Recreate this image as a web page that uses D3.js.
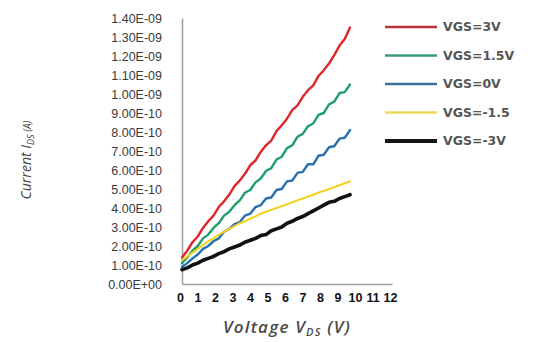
<!DOCTYPE html>
<html>
<head>
<meta charset="utf-8">
<script src="https://cdn.jsdelivr.net/npm/d3@7/dist/d3.min.js"></script>
<style>
  body { margin: 0; background: #fff; }
</style>
</head>
<body>
<div id="chart"></div>
<script>
// Drain voltage samples (V)
const vds = [0, 0.3, 0.6, 0.9, 1.2, 1.5, 1.8, 2.1, 2.4, 2.7, 3.0, 3.3, 3.6, 3.9, 4.2, 4.5, 4.8,
  5.1, 5.4, 5.7, 6.0, 6.3, 6.6, 6.9, 7.2, 7.5, 7.8, 8.1, 8.4, 8.7, 9.0, 9.3, 9.6];

// Drain current, in units of 1e-10 A
const idsVgs3 = [1.4, 1.75, 2.2, 2.5, 2.95, 3.3, 3.6, 4.05, 4.35, 4.7, 5.15, 5.45, 5.8, 6.25, 6.5, 6.95,
  7.3, 7.55, 8.05, 8.35, 8.7, 9.15, 9.4, 9.85, 10.2, 10.45, 10.95, 11.25, 11.6, 12.05, 12.55, 12.9, 13.5];
const idsVgs15 = [1.1, 1.4, 1.75, 2.0, 2.4, 2.6, 2.95, 3.2, 3.6, 3.8, 4.15, 4.4, 4.8, 4.95, 5.35, 5.55,
  5.95, 6.1, 6.55, 6.7, 7.15, 7.3, 7.75, 7.9, 8.3, 8.45, 8.9, 9.0, 9.45, 9.6, 10.05, 10.1, 10.5];
const idsVgs0 = [0.9, 1.1, 1.35, 1.55, 1.85, 2.0, 2.25, 2.4, 2.75, 2.9, 3.15, 3.25, 3.6, 3.7, 4.05, 4.15,
  4.5, 4.55, 4.95, 5.0, 5.4, 5.45, 5.85, 5.9, 6.3, 6.3, 6.75, 6.8, 7.2, 7.25, 7.65, 7.7, 8.1];
const idsVgsM15 = [1.25, 1.45, 1.65, 1.85, 2.05, 2.25, 2.4, 2.6, 2.75, 2.9, 3.05, 3.2, 3.3, 3.45, 3.55, 3.7,
  3.8, 3.9, 4.0, 4.1, 4.2, 4.3, 4.4, 4.5, 4.6, 4.7, 4.8, 4.9, 5.0, 5.1, 5.2, 5.3, 5.4];
const idsVgsM3 = [0.75, 0.85, 1.0, 1.1, 1.25, 1.35, 1.45, 1.6, 1.7, 1.85, 1.95, 2.05, 2.2, 2.3, 2.4, 2.55,
  2.6, 2.8, 2.9, 3.0, 3.2, 3.3, 3.45, 3.55, 3.7, 3.85, 4.0, 4.15, 4.3, 4.35, 4.5, 4.6, 4.7];

const seriesNames = ['VGS=3V', 'VGS=1.5V', 'VGS=0V', 'VGS=-1.5', 'VGS=-3V'];
const seriesValues = [idsVgs3, idsVgs15, idsVgs0, idsVgsM15, idsVgsM3];

const xTickValues = [0, 1, 2, 3, 4, 5, 6, 7, 8, 9, 10, 11, 12];
const yTickValues = [0, 1, 2, 3, 4, 5, 6, 7, 8, 9, 10, 11, 12, 13, 14];

const width = 534;
const height = 343;
const margin = {top: 18, left: 182, right: 142, bottom: 59};

const lineColors = ['#e0262b', '#1f9e6c', '#2671b2', '#f4d11f', '#111111'];
const legendColors = ['#b8333a', '#3c9a7a', '#3a6f9a', '#ecd95a', '#151515'];
const lineWidths = [2.4, 2.4, 2.4, 2, 3.6];

const svg = d3.select('#chart')
  .append('svg')
  .attr('width', width)
  .attr('height', height)
  .attr('viewBox', `0 0 ${width} ${height}`);

const xScale = d3.scaleLinear()
  .domain([0, 12])
  .range([margin.left, width - margin.right]);

const yScale = d3.scaleLinear()
  .domain([0, 14])
  .range([height - margin.bottom, margin.top]);

// Axis label format like 1.40E-09
const formatCurrent = v => {
  if (v === 0) return '0.00E+00';
  const [mant, exp] = (v * 1e-10).toExponential(2).split('e');
  const e = parseInt(exp);
  return mant + 'E' + (e < 0 ? '-' : '+') + String(Math.abs(e)).padStart(2, '0');
};

// y-axis
const yAxis = svg.append('g')
  .attr('transform', `translate(${margin.left}, 0)`)
  .call(d3.axisLeft(yScale).tickValues(yTickValues).tickSize(0).tickPadding(20).tickFormat(formatCurrent));
yAxis.select('.domain').attr('stroke', '#a0a0a0').attr('stroke-width', 1.5);
yAxis.selectAll('text')
  .style('font-family', 'Liberation Sans, Arial, sans-serif')
  .style('font-size', '12.5px')
  .style('fill', '#3a3a3a');

// x-axis
const xAxis = svg.append('g')
  .attr('transform', `translate(0, ${height - margin.bottom})`)
  .call(d3.axisBottom(xScale).tickValues(xTickValues).tickSize(0).tickPadding(9).tickFormat(d3.format('d')));
xAxis.select('.domain').attr('stroke', '#a0a0a0').attr('stroke-width', 1.5);
xAxis.selectAll('text')
  .attr('dx', '-2px')
  .style('font-family', 'Liberation Sans, Arial, sans-serif')
  .style('font-weight', 'bold')
  .style('font-size', '12.5px')
  .style('fill', '#111');

// Axis titles
const yTitle = svg.append('text')
  .attr('transform', `translate(31, 160) rotate(-90)`)
  .attr('text-anchor', 'middle')
  .style('font-family', 'Open Sans, sans-serif')
  .style('font-style', 'italic')
  .style('font-size', '14px')
  .style('fill', '#444');
yTitle.append('tspan').text('Current I');
yTitle.append('tspan').attr('dy', 3).style('font-size', '9px').text('DS');
yTitle.append('tspan').attr('dy', -3).style('font-size', '10px').text(' (A)');

const xTitle = svg.append('text')
  .attr('x', 287)
  .attr('y', 333)
  .attr('text-anchor', 'middle')
  .style('font-family', 'Open Sans, sans-serif')
  .style('font-style', 'italic')
  .style('font-weight', '600')
  .style('font-size', '17px')
  .style('letter-spacing', '1.2px')
  .style('fill', '#4a4a4a');
xTitle.append('tspan').text('Voltage V');
xTitle.append('tspan').attr('dy', 3).style('font-size', '11px').text('DS');
xTitle.append('tspan').attr('dy', -3).text('  (V)');

// Curves
const line = d3.line()
  .x((d, i) => xScale(vds[i]))
  .y(d => yScale(d));

svg.selectAll('.curve')
  .data(seriesValues)
  .enter()
  .append('path')
  .attr('class', 'curve')
  .attr('d', d => line(d))
  .attr('fill', 'none')
  .attr('stroke', (d, i) => lineColors[i])
  .attr('stroke-width', (d, i) => lineWidths[i])
  .attr('stroke-linejoin', 'round')
  .attr('stroke-linecap', 'round');

// Legend
const legend = svg.selectAll('.legend-item')
  .data(seriesNames)
  .enter()
  .append('g')
  .attr('class', 'legend-item')
  .attr('transform', (d, i) => `translate(385, ${27 + i * 28.5})`);

legend.append('line')
  .attr('x1', 0)
  .attr('x2', 52)
  .attr('stroke', (d, i) => legendColors[i])
  .attr('stroke-width', (d, i) => i === 4 ? 4 : 2.5);

legend.append('text')
  .attr('x', 58)
  .attr('dy', '0.35em')
  .style('font-family', 'DejaVu Sans, Verdana, sans-serif')
  .style('font-weight', 'bold')
  .style('font-size', '12.5px')
  .style('fill', '#555')
  .text(d => d);
</script>
</body>
</html>
